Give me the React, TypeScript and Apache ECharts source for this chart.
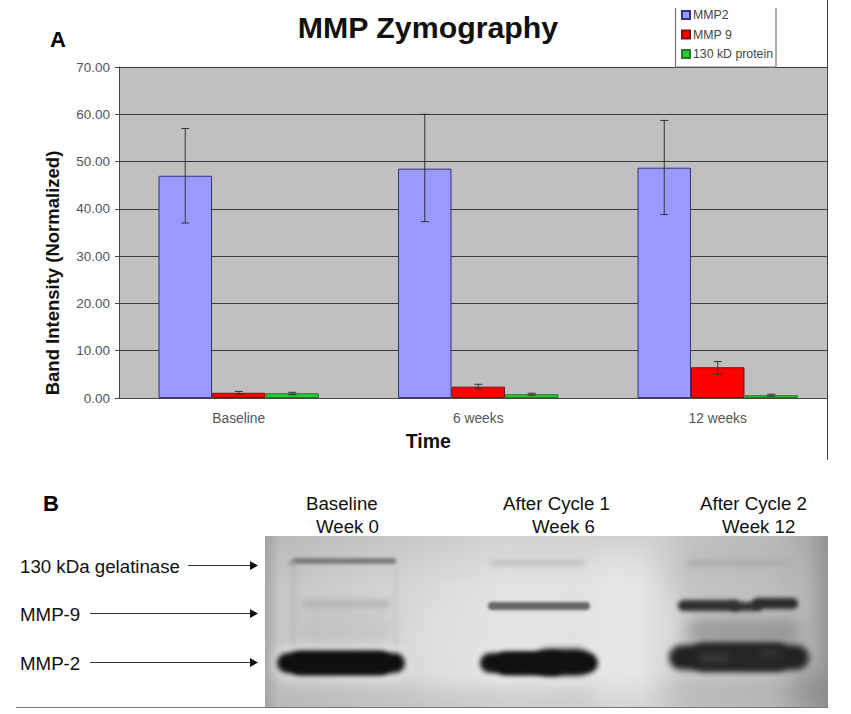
import React, { useEffect, useRef } from "react";
import * as echarts from "echarts";

const categories = ["Baseline", "6 weeks", "12 weeks"];
const seriesNames = ["MMP2", "MMP 9", "130 kD protein"];
const mmp2 = [47.0, 48.5, 48.7];
const mmp9 = [1.1, 2.4, 6.5];
const protein130 = [1.0, 0.8, 0.6];
const mmp2Low = [37.0, 37.3, 38.8];
const mmp2High = [57.0, 60.0, 58.7];
const mmp9Low = [0.8, 1.9, 5.0];
const mmp9High = [1.4, 2.9, 7.7];
const protein130Low = [0.7, 0.6, 0.4];
const protein130High = [1.2, 1.0, 0.8];
const yTicks = { min: 0, max: 70, interval: 10 };

const FONT = '"Liberation Sans", Arial, sans-serif';
const CATEGORY_GAP = 0.33;
const BAND_FRACTION = (1 - CATEGORY_GAP) / 3;

const gelLabels = [
  { text: "130 kDa gelatinase", x: 20, y: 566, from: 188 },
  { text: "MMP-9", x: 20, y: 614, from: 90 },
  { text: "MMP-2", x: 20, y: 663, from: 90 },
];
const laneHeads = [
  { text: "Baseline", x: 306, y: 503 },
  { text: "Week 0", x: 316, y: 526 },
  { text: "After Cycle 1", x: 503, y: 503 },
  { text: "Week 6", x: 532, y: 526 },
  { text: "After Cycle 2", x: 700, y: 503 },
  { text: "Week 12", x: 722, y: 526 },
];

// Gel photograph, painted as soft blobs: x, y, width, height, colour, blur px
const GEL = { x: 265, y: 536, width: 563, height: 171 };
const gelBlobs: [number, number, number, number, string, number][] = [
  // background shading
  [595, 550, 45, 140, "rgba(240,240,240,0.4)", 14],
  [410, 600, 100, 90, "rgba(228,228,228,0.5)", 14],
  [670, 545, 130, 70, "rgba(165,165,165,0.3)", 10],
  [665, 675, 170, 32, "rgba(150,150,150,0.3)", 10],
  [265, 690, 330, 20, "rgba(170,170,170,0.25)", 8],
  [790, 670, 45, 40, "rgba(120,120,120,0.35)", 10],
  // lane 1 walls and smear
  [292, 565, 3, 85, "rgba(150,150,150,0.35)", 2.5],
  [394, 566, 3, 84, "rgba(160,160,160,0.3)", 2.5],
  [300, 612, 92, 34, "rgba(170,170,170,0.25)", 6],
  // light halos around MMP-2
  [272, 645, 138, 36, "rgba(238,238,238,0.5)", 5],
  [475, 645, 128, 36, "rgba(238,238,238,0.5)", 5],
  // lane 3 smear above MMP-2
  [685, 618, 115, 28, "rgba(105,105,105,0.5)", 8],
  // 130 kDa bands
  [292, 558, 104, 6, "#7e7e7e", 1.6],
  [288, 561, 8, 4, "#a0a0a0", 1.6],
  [490, 560, 95, 6, "#c2c2c2", 2.4],
  [687, 560, 104, 6, "#adadad", 2.4],
  // MMP-9 bands
  [302, 600, 88, 8, "#b4b4b4", 3],
  [488, 602, 102, 8, "#666666", 1.8],
  [678, 600, 62, 11, "#2f2f2f", 2],
  [730, 602, 32, 9, "#333333", 2],
  [752, 598, 46, 11, "#2a2a2a", 2],
  // MMP-2 bands
  [277, 653, 128, 20, "#0f0f0f", 2.5],
  [288, 651, 104, 24, "#0f0f0f", 2.5],
  [480, 653, 118, 20, "#111111", 2.5],
  [495, 652, 70, 23, "#111111", 2.5],
  [535, 649, 56, 26, "#111111", 3],
  [669, 645, 140, 25, "#222222", 3],
  [690, 643, 100, 28, "#262626", 3],
  // mottling inside lane 3's band
  [700, 654, 30, 8, "rgba(70,70,70,0.6)", 3],
  [760, 650, 20, 6, "rgba(70,70,70,0.5)", 3],
];

function paintGel(): string {
  const canvas = document.createElement("canvas");
  canvas.width = GEL.width;
  canvas.height = GEL.height;
  const ctx = canvas.getContext("2d")!;
  const h = ctx.createLinearGradient(0, 0, GEL.width, 0);
  const stops: [number, string][] = [
    [0, "#a9a9a9"],
    [0.025, "#c6c6c6"],
    [0.25, "#d6d6d6"],
    [0.42, "#e4e4e4"],
    [0.6, "#e2e2e2"],
    [0.67, "#e2e2e2"],
    [0.77, "#d0d0d0"],
    [0.9, "#c8c8c8"],
    [0.96, "#b6b6b6"],
    [1, "#979797"],
  ];
  stops.forEach(([o, c]) => h.addColorStop(o, c));
  ctx.fillStyle = h;
  ctx.fillRect(0, 0, GEL.width, GEL.height);
  const v = ctx.createLinearGradient(0, 0, 0, GEL.height);
  v.addColorStop(0, "rgba(120,120,120,0.16)");
  v.addColorStop(0.3, "rgba(120,120,120,0)");
  v.addColorStop(0.8, "rgba(120,120,120,0)");
  v.addColorStop(1, "rgba(120,120,120,0.12)");
  ctx.fillStyle = v;
  ctx.fillRect(0, 0, GEL.width, GEL.height);
  gelBlobs.forEach(([x, y, width, height, color, blur]) => {
    ctx.filter = `blur(${blur}px)`;
    ctx.fillStyle = color;
    ctx.beginPath();
    ctx.roundRect(x - GEL.x, y - GEL.y, width, height, height / 2);
    ctx.fill();
  });
  ctx.filter = "none";
  return canvas.toDataURL("image/png");
}

function errorSeries(low: number[], high: number[], slot: number) {
  return {
    type: "custom",
    z: 6,
    silent: true,
    encode: { x: 0, y: [1, 2] },
    data: categories.map((_, i) => [i, low[i], high[i]]),
    renderItem: (_: any, api: any) => {
      const c = api.value(0);
      const band = api.size([1, 0])[0];
      const p1 = api.coord([c, api.value(1)]);
      const p2 = api.coord([c, api.value(2)]);
      const x = p1[0] + slot * band * BAND_FRACTION;
      const style = { stroke: "#333", lineWidth: 1, fill: "none" };
      const seg = (x1: number, y1: number, x2: number, y2: number) => ({
        type: "line",
        shape: { x1, y1, x2, y2 },
        style,
      });
      return {
        type: "group",
        children: [
          seg(x, p1[1], x, p2[1]),
          seg(x - 4, p1[1], x + 4, p1[1]),
          seg(x - 4, p2[1], x + 4, p2[1]),
        ],
      };
    },
  };
}

function bar(name: string, data: number[], color: string, border: string) {
  return {
    type: "bar",
    name,
    data,
    barGap: "0%",
    barCategoryGap: `${CATEGORY_GAP * 100}%`,
    itemStyle: { color, borderColor: border, borderWidth: 1 },
  };
}

function gelGraphics() {
  const out: any[] = [];
  const Z = 60;
  out.push({
    type: "image",
    z: Z,
    x: GEL.x,
    y: GEL.y,
    style: { image: paintGel(), x: 0, y: 0, width: GEL.width, height: GEL.height },
  });
  gelLabels.forEach(({ text, x, y, from }) => {
    out.push({
      type: "text",
      z: Z,
      style: { text, x, y, fill: "#111", font: `18.7px ${FONT}`, textVerticalAlign: "middle" },
    });
    out.push({
      type: "line",
      z: Z,
      shape: { x1: from, y1: y - 0.5, x2: 252, y2: y - 0.5 },
      style: { stroke: "#333", lineWidth: 1 },
    });
    out.push({
      type: "polygon",
      z: Z,
      shape: { points: [[250, y - 5], [258, y - 0.5], [250, y + 4]] },
      style: { fill: "#111" },
    });
  });
  laneHeads.forEach(({ text, x, y }) => {
    out.push({
      type: "text",
      z: Z,
      style: { text, x, y, fill: "#111", font: `18.7px ${FONT}`, textVerticalAlign: "middle" },
    });
  });
  return out;
}

export default function App() {
  const ref = useRef<HTMLDivElement>(null);
  useEffect(() => {
    const chart = echarts.init(ref.current!, undefined, { renderer: "svg" });
    chart.setOption({
      animation: false,
      backgroundColor: "#ffffff",
      textStyle: { fontFamily: FONT },
      title: {
        text: "MMP Zymography",
        left: 423,
        top: 7,
        textAlign: "center",
        textStyle: { fontFamily: FONT, fontSize: 30.3, fontWeight: "bold", color: "#111" },
      },
      legend: {
        data: seriesNames,
        orient: "vertical",
        left: 681,
        top: 9,
        padding: 0,
        itemWidth: 8,
        itemHeight: 8,
        itemGap: 7.5,
        icon: "rect",
        selectedMode: false,
        textStyle: { fontFamily: FONT, fontSize: 12.3, color: "#444", padding: [0, 0, 0, -2] },
      },
      grid: {
        left: 119,
        top: 67,
        width: 718.5,
        height: 331,
        show: true,
        backgroundColor: "#c0c0c0",
        borderWidth: 0,
      },
      xAxis: {
        type: "category",
        data: categories,
        name: "Time",
        nameLocation: "middle",
        nameGap: 33,
        nameTextStyle: {
          fontFamily: FONT,
          fontSize: 19.5,
          fontWeight: "bold",
          color: "#111",
          padding: [0, 100, 0, 0],
        },
        axisLine: { lineStyle: { color: "#444", width: 1 } },
        axisTick: { alignWithLabel: false, length: 4, lineStyle: { color: "#444" } },
        axisLabel: { fontFamily: FONT, fontSize: 13.8, color: "#555", margin: 13 },
      },
      yAxis: {
        type: "value",
        min: yTicks.min,
        max: yTicks.max,
        interval: yTicks.interval,
        name: "Band Intensity (Normalized)",
        nameLocation: "middle",
        nameGap: 57,
        nameTextStyle: {
          fontFamily: FONT,
          fontSize: 18.5,
          fontWeight: "bold",
          color: "#111",
          padding: [0, 81, 0, 0],
        },
        axisLine: { show: true, lineStyle: { color: "#444", width: 1 } },
        axisTick: { show: true, length: 4, lineStyle: { color: "#444" } },
        axisLabel: {
          fontFamily: FONT,
          fontSize: 13.5,
          color: "#555",
          margin: 9,
          formatter: (v: number) => v.toFixed(2),
        },
        splitLine: { show: true, lineStyle: { color: "#3c3c3c", width: 1 } },
      },
      series: [
        bar(seriesNames[0], mmp2, "#9999ff", "#33337a"),
        bar(seriesNames[1], mmp9, "#ff0000", "#7a1010"),
        bar(seriesNames[2], protein130, "#22cc33", "#2a7a2a"),
        errorSeries(mmp2Low, mmp2High, -1),
        errorSeries(mmp9Low, mmp9High, 0),
        errorSeries(protein130Low, protein130High, 1),
      ],
      graphic: {
        elements: [
          // the reference is cropped at its right edge
          {
            type: "rect",
            z: 50,
            shape: { x: 828, y: 0, width: 23, height: 714 },
            style: { fill: "#ffffff" },
          },
          {
            type: "line",
            z: 51,
            shape: { x1: 827.5, y1: 0, x2: 827.5, y2: 460 },
            style: { stroke: "#444", lineWidth: 1 },
          },
          {
            type: "polyline",
            z: 51,
            shape: { points: [[675.5, 8], [675.5, 67], [776, 67], [776, 8]] },
            style: { stroke: "#777", lineWidth: 1.2, fill: "none" },
          },
          {
            type: "text",
            z: 51,
            style: { text: "A", x: 50, y: 28, fill: "#000", font: `bold 22px ${FONT}` },
          },
          {
            type: "text",
            z: 51,
            style: { text: "B", x: 43, y: 492, fill: "#000", font: `bold 22px ${FONT}` },
          },
          {
            type: "line",
            z: 51,
            shape: { x1: 16, y1: 707.5, x2: 828, y2: 707.5 },
            style: { stroke: "#777", lineWidth: 1 },
          },
          ...gelGraphics(),
        ],
      },
    });
    return () => chart.dispose();
  }, []);
  return (
    <div
      ref={ref}
      style={{ position: "absolute", left: 0, top: 0, width: 851, height: 714 }}
    />
  );
}
